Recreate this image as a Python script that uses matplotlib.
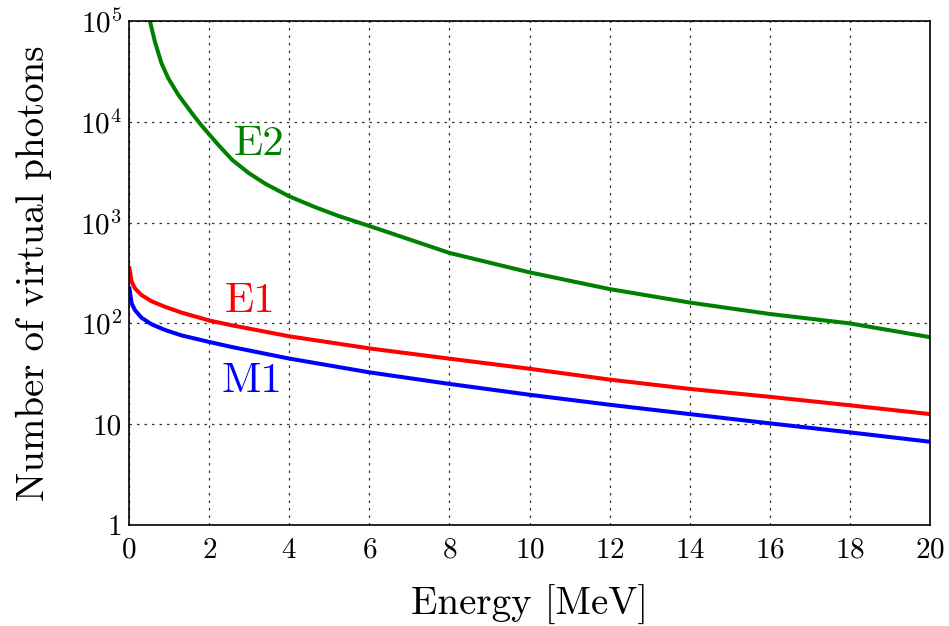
import matplotlib
matplotlib.use("Agg")
import matplotlib.pyplot as plt
from matplotlib.ticker import FixedLocator, FixedFormatter, NullLocator

plt.rcParams['font.family'] = 'serif'
plt.rcParams['font.serif'] = ['cmr10', 'DejaVu Serif']
plt.rcParams['mathtext.fontset'] = 'cm'
plt.rcParams['axes.formatter.use_mathtext'] = True

# virtual photon numbers vs. energy (MeV)
e2_energy = [0.52, 0.645, 0.81, 0.98, 1.23, 1.56, 1.77, 2.0, 2.22, 2.58, 3.0, 3.42, 4.0,
             4.67, 5.25, 6.0, 6.77, 8.0, 10.0, 12.0, 14.0, 16.0, 18.0, 20.0]
e2_counts = [100000, 62300, 38000, 27000, 18500, 12300, 9600, 7500, 5950, 4170, 3076, 2406, 1820,
             1410, 1156, 925, 731, 500, 321, 219, 161, 124, 100, 73]

e1_energy = [0.01, 0.065, 0.15, 0.31, 0.56, 0.9, 1.31, 2.0, 2.55, 4.0, 6.0, 8.0,
             10.0, 12.0, 14.0, 16.0, 18.0, 20.0]
e1_counts = [352, 259, 222, 191, 166, 146, 128, 107, 96, 74.5, 56.5, 44.7,
             35.5, 27.7, 22.4, 18.7, 15.4, 12.6]

m1_energy = [0.01, 0.065, 0.15, 0.31, 0.56, 0.9, 1.31, 2.0, 2.55, 4.0, 6.0, 8.0,
             10.0, 12.0, 14.0, 16.0, 18.0, 20.0]
m1_counts = [222, 158, 135, 114, 98, 86, 76, 65.5, 58.5, 44.8, 32.7, 25.1,
             19.6, 15.6, 12.6, 10.2, 8.3, 6.7]

y_ticks = [1, 10, 100, 1000, 10000, 100000]
y_labels = ['1', '10', r'$10^2$', r'$10^3$', r'$10^4$', r'$10^5$']
x_ticks = [0, 2, 4, 6, 8, 10, 12, 14, 16, 18, 20]

fig = plt.figure(figsize=(9.49, 6.26), dpi=100)
ax = fig.add_axes([0.136, 0.1613, 0.844, 0.8052])

ax.plot(e2_energy, e2_counts, color='#008000', lw=2.9, solid_joinstyle='round')
ax.plot(e1_energy, e1_counts, color='#ff0000', lw=2.9, solid_joinstyle='round')
ax.plot(m1_energy, m1_counts, color='#0000ff', lw=2.9, solid_joinstyle='round')

# curve labels
ax.text(3.25, 4690, 'E2', color='#008000', fontsize=31, ha='center', va='baseline')
ax.text(3.02, 130, 'E1', color='#ff0000', fontsize=31, ha='center', va='baseline')
ax.text(3.06, 20.9, 'M1', color='#0000ff', fontsize=31, ha='center', va='baseline')

ax.set_yscale('log')
ax.set_xlim(0, 20)
ax.set_ylim(1, 1e5)
ax.xaxis.set_major_locator(FixedLocator(x_ticks))
ax.yaxis.set_major_locator(FixedLocator(y_ticks))
ax.yaxis.set_major_formatter(FixedFormatter(y_labels))
ax.yaxis.set_minor_locator(NullLocator())
ax.tick_params(axis='both', length=0, labelsize=21)
ax.tick_params(axis='x', pad=9)
ax.tick_params(axis='y', pad=5)

ax.grid(True, color='#333333', lw=0.9, linestyle=(0, (2, 4)))
ax.set_axisbelow(True)
for s in ax.spines.values():
    s.set_linewidth(1.2)

ax.set_xlabel('Energy [MeV]', fontsize=28, labelpad=15)
ax.set_ylabel('Number of virtual photons', fontsize=28, labelpad=20)

fig.savefig('out.png', dpi=100)
